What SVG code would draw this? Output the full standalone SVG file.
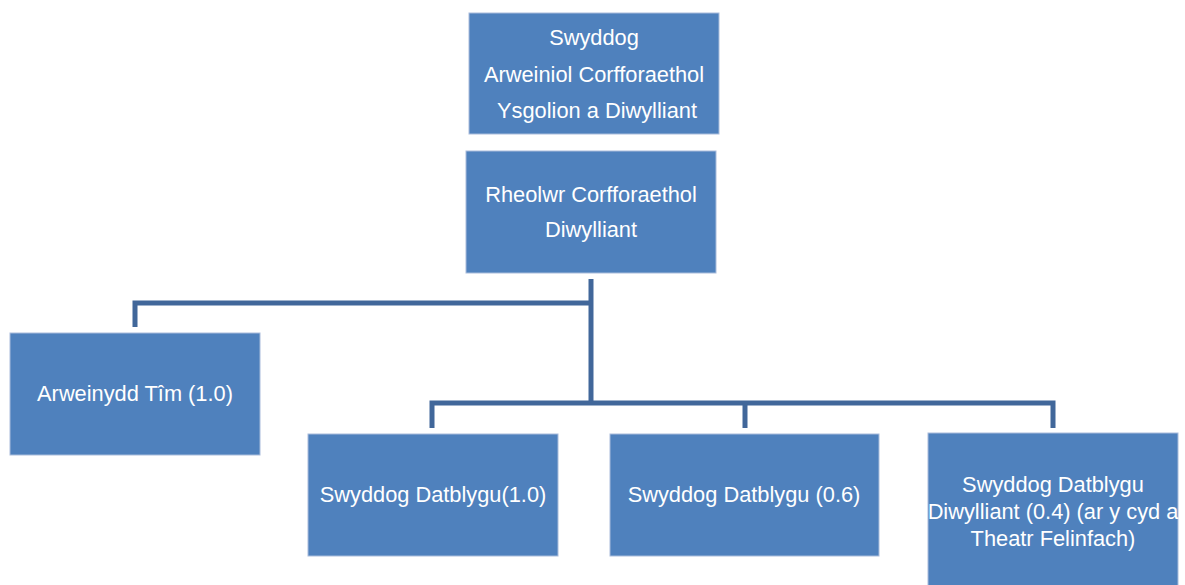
<svg xmlns="http://www.w3.org/2000/svg" width="1185" height="585" viewBox="0 0 1185 585">
<style>
.box{fill:#4F81BD;stroke:#A9BCDB;stroke-width:1}
.t{font-family:"Liberation Sans",Arial,sans-serif;font-size:21.8px;fill:#FFFFFF;text-anchor:middle}
.c{fill:none;stroke:#41679A;stroke-width:5;stroke-linejoin:miter}
</style>
<rect width="1185" height="585" fill="#FFFFFF"/>
<g id="connectors">
<path class="c" d="M591,279 V403"/>
<path class="c" d="M135,327 V303 H591"/>
<path class="c" d="M432,428 V403 H1053 V428"/>
<path class="c" d="M745,403 V428"/>
</g>
<g id="node-swyddog-arweiniol">
<rect class="box" x="469" y="13" width="250" height="121"/>
<text class="t" x="594" y="45">Swyddog</text>
<text class="t" x="594" y="82">Arweiniol Corfforaethol</text>
<text class="t" x="597" y="118">Ysgolion a Diwylliant</text>
</g>
<g id="node-rheolwr">
<rect class="box" x="466" y="151" width="250" height="122"/>
<text class="t" x="591" y="202">Rheolwr Corfforaethol</text>
<text class="t" x="591" y="237">Diwylliant</text>
</g>
<g id="node-arweinydd">
<rect class="box" x="10" y="333" width="250" height="122"/>
<text class="t" x="135" y="401">Arweinydd Tîm (1.0)</text>
</g>
<g id="node-datblygu-1">
<rect class="box" x="308" y="434" width="250" height="122"/>
<text class="t" x="433" y="502">Swyddog Datblygu(1.0)</text>
</g>
<g id="node-datblygu-06">
<rect class="box" x="610" y="434" width="269" height="122"/>
<text class="t" x="744" y="502">Swyddog Datblygu (0.6)</text>
</g>
<g id="node-datblygu-04">
<rect class="box" x="928" y="433" width="250" height="160"/>
<text class="t" x="1053" y="492">Swyddog Datblygu</text>
<text class="t" x="1053" y="519">Diwylliant (0.4) (ar y cyd a</text>
<text class="t" x="1053" y="546">Theatr Felinfach)</text>
</g>
</svg>
